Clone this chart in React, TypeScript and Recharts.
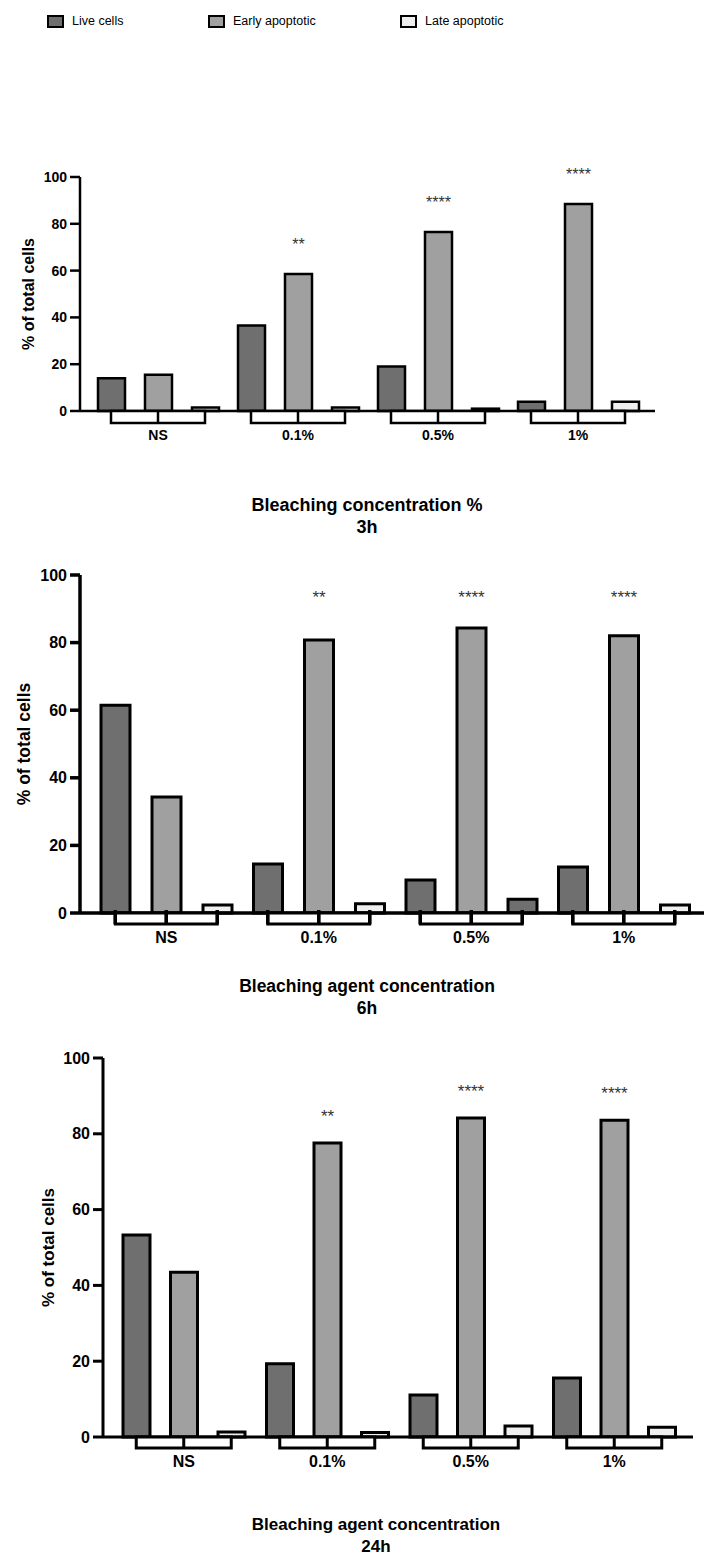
import React from "react";
import { Bar, BarChart, Cell, LabelList, XAxis, YAxis } from "recharts";

const FONT = "'Liberation Sans', Arial, sans-serif";
const LIVE = "#6f6f6f";
const EARLY = "#a0a0a0";
const LATE = "#efefef";

const categories = ["NS", "0.1%", "0.5%", "1%"];
const seriesNames = ["Live cells", "Early apoptotic", "Late apoptotic"];
const yTicks = [0, 20, 40, 60, 80, 100];

// 3h
const live3h = [14, 36.5, 19, 4];
const early3h = [15.5, 58.5, 76.5, 88.5];
const late3h = [1.5, 1.5, 1, 4];
const stars3h = ["", "**", "****", "****"];

// 6h
const live6h = [61.5, 14.5, 9.8, 13.6];
const early6h = [34.3, 80.8, 84.3, 82];
const late6h = [2.4, 2.7, 4.1, 2.4];
const stars6h = ["", "**", "****", "****"];

// 24h
const live24h = [53.3, 19.3, 11.1, 15.6];
const early24h = [43.5, 77.6, 84.2, 83.6];
const late24h = [1.3, 1.2, 2.9, 2.6];
const stars24h = ["", "**", "****", "****"];

type Panel = {
  live: number[];
  early: number[];
  late: number[];
  stars: string[];
  title: string[];
  top: number;
  height: number;
  margin: { top: number; right: number; bottom: number; left: number };
  yWidth: number;
  pad: { left: number; right: number };
  barSize: number;
  barGap: number;
  stroke: number;
  axisStroke: number;
  tickFont: number;
  yLabelFont: number;
  yLabelX: number;
  titleFont: number;
  titleX: number;
  titleY: number;
  starFont: number;
  starGap?: number;
  starLevel?: number;
  darkLateAt?: number;
  bracketDrop: number;
  bracketPins?: boolean;
};

const panels: Panel[] = [
  {
    live: live3h, early: early3h, late: late3h, stars: stars3h,
    title: ["Bleaching concentration %", "3h"],
    top: 140, height: 420,
    margin: { top: 37, right: 49, bottom: 109, left: 0 },
    yWidth: 80, pad: { left: 8, right: 7 },
    barSize: 27, barGap: 20, stroke: 2.5, axisStroke: 2.5,
    tickFont: 14, yLabelFont: 16, yLabelX: 28,
    titleFont: 18, titleX: 367, titleY: 505,
    starFont: 16, starGap: 33,
    bracketDrop: 12,
  },
  {
    live: live6h, early: early6h, late: late6h, stars: stars6h,
    title: ["Bleaching agent concentration", "6h"],
    top: 560, height: 470,
    margin: { top: 15, right: 0, bottom: 77, left: 0 },
    yWidth: 80, pad: { left: 10, right: 4 },
    barSize: 29, barGap: 22, stroke: 3, axisStroke: 3.5,
    tickFont: 16, yLabelFont: 17.5, yLabelX: 24,
    titleFont: 17.5, titleX: 367, titleY: 986,
    starFont: 17, starLevel: 94.7,
    darkLateAt: 2,
    bracketDrop: 11, bracketPins: true,
  },
  {
    live: live24h, early: early24h, late: late24h, stars: stars24h,
    title: ["Bleaching agent concentration", "24h"],
    top: 1040, height: 517,
    margin: { top: 18, right: 11, bottom: 80, left: 0 },
    yWidth: 103, pad: { left: 9, right: 7 },
    barSize: 27, barGap: 20.5, stroke: 3, axisStroke: 3,
    tickFont: 16, yLabelFont: 17, yLabelX: 48,
    titleFont: 17, titleX: 376, titleY: 1525,
    starFont: 17, starGap: 31,
    bracketDrop: 11,
  },
];

const X_HEIGHT = 40;

function YTitle(props: any) {
  const { viewBox, p } = props;
  const plotH = p.height - p.margin.top - p.margin.bottom - X_HEIGHT;
  const cy = viewBox && viewBox.height ? viewBox.y + viewBox.height / 2 : p.margin.top + plotH / 2;
  const x = p.yLabelX;
  return (
    <text x={x} y={cy} transform={`rotate(-90 ${x} ${cy})`} textAnchor="middle" dominantBaseline="central"
      fontSize={p.yLabelFont} fontWeight="bold" fill="#000" fontFamily={FONT}>
      % of total cells
    </text>
  );
}

const makeTick = (p: Panel) => (props: any) => {
  const { x, y, payload } = props;
  const hw = p.barSize + p.barGap;
  const d = p.bracketDrop;
  return (
    <g>
      <rect x={x - hw} y={y} width={hw * 2} height={d} fill="#fff" stroke="#000" strokeWidth={p.stroke} />
      <line x1={x} x2={x} y1={y} y2={y + d} stroke="#000" strokeWidth={p.stroke} />
      {p.bracketPins &&
        [x - hw, x, x + hw].map((px, i) => (
          <line key={i} x1={px} x2={px} y1={y - 3} y2={y + d} stroke="#000" strokeWidth={p.stroke + 0.5} />
        ))}
      <text x={x} y={y + 24} textAnchor="middle" dominantBaseline="central" fontSize={p.tickFont}
        fontWeight="bold" fill="#000" fontFamily={FONT}>
        {payload.value}
      </text>
    </g>
  );
};

const makeStar = (p: Panel) => (props: any) => {
  const vb = props.viewBox ?? props;
  const { x, y, width, height } = vb;
  const { index, value } = props;
  if (!value) return null;
  const cx = x + width / 2;
  let center: number;
  if (p.starLevel != null) {
    const bottom = y + height;
    const perUnit = height / p.early[index];
    center = bottom - p.starLevel * perUnit;
  } else {
    center = y - (p.starGap ?? 30);
  }
  return (
    <text x={cx} y={center + p.starFont * 0.58} textAnchor="middle" fontSize={p.starFont} fill="#333" fontFamily={FONT}>
      {value}
    </text>
  );
};

function PanelChart({ p }: { p: Panel }) {
  const rows = categories.map((cat, i) => ({
    cat,
    live: p.live[i],
    early: p.early[i],
    late: p.late[i],
    star: p.stars[i],
  }));
  const axisStyle = { stroke: "#000", strokeWidth: p.axisStroke };
  return (
    <div style={{ position: "absolute", left: 0, top: p.top, width: 704, height: p.height }}>
      <BarChart width={704} height={p.height} data={rows} margin={p.margin} barSize={p.barSize} barGap={p.barGap}>
        <XAxis dataKey="cat" type="category" height={X_HEIGHT} padding={p.pad} axisLine={axisStyle}
          tickLine={false} tickSize={0} tickMargin={0} interval={0} tick={makeTick(p)} />
        <YAxis type="number" domain={[0, 100]} ticks={yTicks} width={p.yWidth} axisLine={axisStyle}
          tickLine={axisStyle} tickSize={10} tickMargin={3} interval={0}
          tick={{ fill: "#000", fontSize: p.tickFont, fontWeight: "bold", fontFamily: FONT }}
          label={<YTitle p={p} />} />
        <Bar dataKey="live" fill={LIVE} stroke="#000" strokeWidth={p.stroke} isAnimationActive={false} />
        <Bar dataKey="early" fill={EARLY} stroke="#000" strokeWidth={p.stroke} isAnimationActive={false}>
          <LabelList dataKey="star" content={makeStar(p)} />
        </Bar>
        <Bar dataKey="late" fill={LATE} stroke="#000" strokeWidth={p.stroke} isAnimationActive={false}>
          {rows.map((_, i) => (
            <Cell key={i} fill={i === p.darkLateAt ? LIVE : LATE} />
          ))}
        </Bar>
      </BarChart>
      <div style={{
        position: "absolute", left: p.titleX - 220, width: 440, top: p.titleY - p.top - 11,
        textAlign: "center", fontFamily: FONT, fontWeight: "bold", fontSize: p.titleFont, lineHeight: "22px", color: "#000",
      }}>
        {p.title.map((t) => (
          <div key={t}>{t}</div>
        ))}
      </div>
    </div>
  );
}

const legendLeft = [47, 208, 400];
const legendFill = [LIVE, EARLY, LATE];

export default function App() {
  return (
    <div style={{ position: "absolute", left: 0, top: 0, width: 704, height: 1557, background: "#fff", fontFamily: FONT, overflow: "hidden" }}>
      {seriesNames.map((name, i) => (
        <div key={name} style={{ position: "absolute", left: legendLeft[i], top: 13, height: 16, display: "flex", alignItems: "center" }}>
          <div style={{ width: 13, height: 9, border: "2.5px solid #000", background: legendFill[i] }} />
          <span style={{ marginLeft: 8, fontSize: 12.5, color: "#000" }}>{name}</span>
        </div>
      ))}
      {panels.map((p, i) => (
        <PanelChart key={i} p={p} />
      ))}
    </div>
  );
}
